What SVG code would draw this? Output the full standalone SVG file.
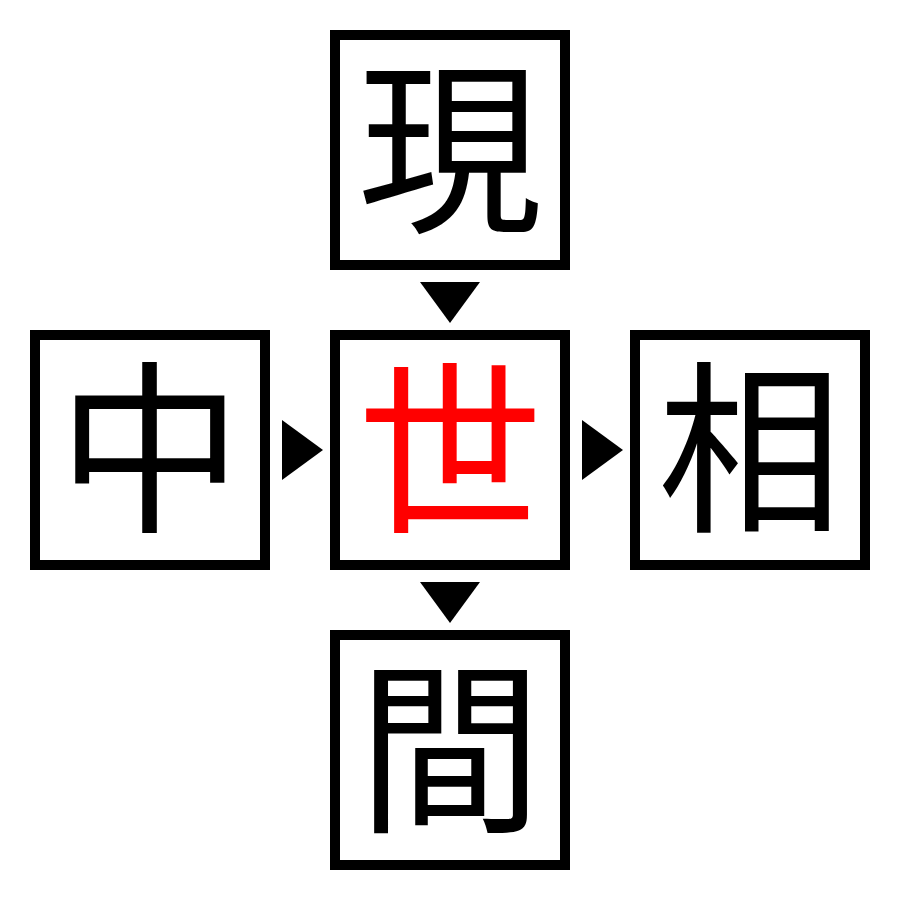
<svg xmlns="http://www.w3.org/2000/svg" width="900" height="900" viewBox="0 0 900 900">
<style>
.box{fill:#fff;stroke:#000;stroke-width:10}
.ch{font-family:"Noto Sans CJK JP","Noto Sans CJK SC",serif;font-size:185px;text-anchor:middle;fill:#000}
.red{fill:#ff0000}
.arr{fill:#000}
</style>
<rect width="900" height="900" fill="#fff"/>
<g id="node-top"><rect class="box" x="335" y="35" width="230" height="230"/><text class="ch" x="450" y="218">現</text></g>
<g id="node-left"><rect class="box" x="35" y="335" width="230" height="230"/><text class="ch" x="150" y="518">中</text></g>
<g id="node-center"><rect class="box" x="335" y="335" width="230" height="230"/><text class="ch red" x="450" y="518">世</text></g>
<g id="node-right"><rect class="box" x="635" y="335" width="230" height="230"/><text class="ch" x="750" y="518">相</text></g>
<g id="node-bottom"><rect class="box" x="335" y="635" width="230" height="230"/><text class="ch" x="450" y="818">間</text></g>
<g id="connectors">
<polygon class="arr" points="420,282 480,282 450,323"/>
<polygon class="arr" points="282,420 282,480 323,450"/>
<polygon class="arr" points="582,420 582,480 623,450"/>
<polygon class="arr" points="420,582 480,582 450,623"/>
</g>
</svg>
